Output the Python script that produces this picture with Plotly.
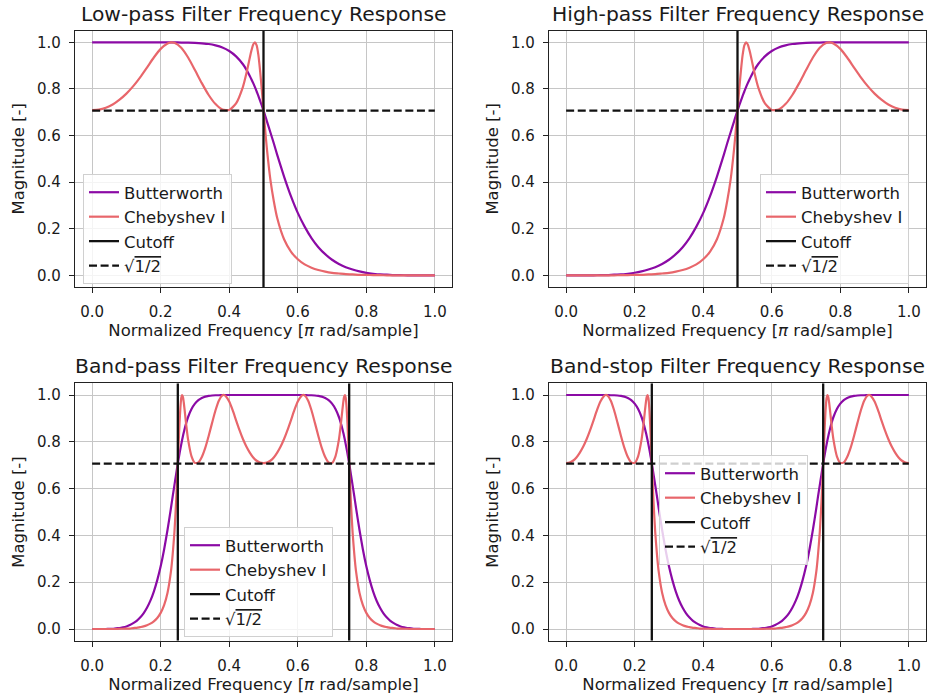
import plotly.graph_objects as go

# ---------------------------------------------------------------------------
# Magnitude responses |H(f)| sampled along the normalized frequency axis
# ---------------------------------------------------------------------------

# Low-pass (cutoff 0.5)
LP_FREQ = [0.00, 0.02, 0.04, 0.06, 0.08, 0.10, 0.12, 0.14, 0.16, 0.18, 0.20, 0.22, 0.23,
           0.24, 0.26, 0.28, 0.30, 0.32, 0.34, 0.36, 0.38, 0.40, 0.42, 0.44,
           0.45, 0.46, 0.465, 0.47, 0.475, 0.48, 0.485, 0.49, 0.495, 0.50, 0.505, 0.51,
           0.52, 0.53, 0.54,
           0.56, 0.58, 0.60, 0.62, 0.64, 0.66, 0.68, 0.70, 0.72, 0.74, 0.76, 0.78, 0.80,
           0.82, 0.84, 0.86, 0.88, 0.90, 0.92, 0.94, 0.96, 0.98, 1.00]
LP_BUTTER = [1.000, 1.000, 1.000, 1.000, 1.000, 1.000, 1.000, 1.000, 1.000, 1.000, 1.000, 1.000, 1.000,
             1.000, 0.999, 0.999, 0.998, 0.996, 0.993, 0.987, 0.978, 0.963, 0.940, 0.906,
             0.883, 0.856, 0.841, 0.825, 0.808, 0.789, 0.770, 0.750, 0.729, 0.707, 0.685, 0.661,
             0.614, 0.567, 0.517,
             0.424, 0.340, 0.268, 0.209, 0.160, 0.121, 0.091, 0.067, 0.049, 0.035, 0.025, 0.017, 0.011,
             0.007, 0.004, 0.003, 0.001, 0.001, 0.000, 0.000, 0.000, 0.000, 0.000]
LP_CHEBY = [0.709, 0.711, 0.719, 0.733, 0.754, 0.780, 0.812, 0.850, 0.892, 0.935, 0.972, 0.995, 1.000,
            0.998, 0.977, 0.935, 0.881, 0.825, 0.774, 0.735, 0.712, 0.710, 0.738, 0.809,
            0.866, 0.934, 0.966, 0.991, 1.000, 0.987, 0.946, 0.879, 0.797, 0.709, 0.622, 0.542,
            0.412, 0.319, 0.246,
            0.155, 0.102, 0.069, 0.047, 0.033, 0.023, 0.016, 0.011, 0.008, 0.005, 0.004, 0.002, 0.002,
            0.001, 0.001, 0.000, 0.000, 0.000, 0.000, 0.000, 0.000, 0.000, 0.000]

# High-pass (cutoff 0.5)
HP_FREQ = [0.00, 0.02, 0.04, 0.06, 0.08, 0.10, 0.12, 0.14, 0.16, 0.18, 0.20, 0.22,
           0.24, 0.26, 0.28, 0.30, 0.32, 0.34, 0.36, 0.38, 0.40, 0.42, 0.44, 0.46,
           0.47, 0.48, 0.49, 0.495, 0.50, 0.505, 0.51, 0.515, 0.52, 0.525, 0.53, 0.535, 0.54, 0.55,
           0.56, 0.58, 0.60, 0.62, 0.64, 0.66, 0.68, 0.70, 0.72, 0.74, 0.76, 0.77,
           0.78, 0.80, 0.82, 0.84, 0.86, 0.88, 0.90, 0.92, 0.94, 0.96, 0.98, 1.00]
HP_BUTTER = [0.000, 0.000, 0.000, 0.000, 0.000, 0.001, 0.001, 0.003, 0.004, 0.007, 0.011, 0.017,
             0.025, 0.035, 0.049, 0.067, 0.091, 0.121, 0.160, 0.209, 0.268, 0.340, 0.424, 0.517,
             0.567, 0.614, 0.661, 0.685, 0.707, 0.729, 0.750, 0.770, 0.789, 0.808, 0.825, 0.841, 0.856, 0.883,
             0.906, 0.940, 0.963, 0.978, 0.987, 0.993, 0.996, 0.998, 0.999, 0.999, 1.000, 1.000,
             1.000, 1.000, 1.000, 1.000, 1.000, 1.000, 1.000, 1.000, 1.000, 1.000, 1.000, 1.000]
HP_CHEBY = [0.000, 0.000, 0.000, 0.000, 0.000, 0.000, 0.000, 0.000, 0.001, 0.001, 0.002, 0.002,
            0.004, 0.005, 0.008, 0.011, 0.016, 0.023, 0.033, 0.047, 0.069, 0.102, 0.155, 0.246,
            0.319, 0.412, 0.542, 0.622, 0.709, 0.797, 0.879, 0.946, 0.987, 1.000, 0.991, 0.966, 0.934, 0.866,
            0.809, 0.738, 0.710, 0.712, 0.735, 0.774, 0.825, 0.881, 0.935, 0.977, 0.998, 1.000,
            0.995, 0.972, 0.935, 0.892, 0.850, 0.812, 0.780, 0.754, 0.733, 0.719, 0.711, 0.709]

# Band-pass (pass band 0.25 .. 0.75)
BP_FREQ = [0.00, 0.01, 0.02, 0.03, 0.04, 0.05, 0.06, 0.07, 0.08, 0.09, 0.10, 0.11,
           0.12, 0.13, 0.14, 0.15, 0.16, 0.17, 0.18, 0.19, 0.20, 0.21, 0.22, 0.23,
           0.235, 0.24, 0.245, 0.2475, 0.25, 0.2525, 0.255, 0.2575, 0.26, 0.2625, 0.265, 0.2675, 0.27, 0.275,
           0.28, 0.29, 0.30, 0.31, 0.32, 0.33, 0.34, 0.35, 0.36, 0.37, 0.38, 0.385,
           0.39, 0.40, 0.41, 0.42, 0.43, 0.44, 0.45, 0.46, 0.47, 0.48, 0.49, 0.50,
           0.51, 0.52, 0.53, 0.54, 0.55, 0.56, 0.57, 0.58, 0.59, 0.60, 0.61, 0.615,
           0.62, 0.63, 0.64, 0.65, 0.66, 0.67, 0.68, 0.69, 0.70, 0.71, 0.72,
           0.725, 0.73, 0.7325, 0.735, 0.7375, 0.74, 0.7425, 0.745, 0.7475, 0.75, 0.7525, 0.755,
           0.76, 0.765, 0.77,
           0.78, 0.79, 0.80, 0.81, 0.82, 0.83, 0.84, 0.85, 0.86, 0.87, 0.88, 0.89,
           0.90, 0.91, 0.92, 0.93, 0.94, 0.95, 0.96, 0.97, 0.98, 0.99, 1.00]
BP_BUTTER = [0.000, 0.000, 0.000, 0.000, 0.000, 0.001, 0.001, 0.003, 0.004, 0.007, 0.011, 0.017,
             0.025, 0.035, 0.049, 0.067, 0.091, 0.121, 0.160, 0.209, 0.268, 0.340, 0.424, 0.517,
             0.567, 0.614, 0.661, 0.685, 0.707, 0.729, 0.750, 0.770, 0.789, 0.808, 0.825, 0.841, 0.856, 0.883,
             0.906, 0.940, 0.963, 0.978, 0.987, 0.993, 0.996, 0.998, 0.999, 0.999, 1.000, 1.000,
             1.000, 1.000, 1.000, 1.000, 1.000, 1.000, 1.000, 1.000, 1.000, 1.000, 1.000, 1.000,
             1.000, 1.000, 1.000, 1.000, 1.000, 1.000, 1.000, 1.000, 1.000, 1.000, 1.000, 1.000,
             1.000, 0.999, 0.999, 0.998, 0.996, 0.993, 0.987, 0.978, 0.963, 0.940, 0.906,
             0.883, 0.856, 0.841, 0.825, 0.808, 0.789, 0.770, 0.750, 0.729, 0.707, 0.685, 0.661,
             0.614, 0.567, 0.517,
             0.424, 0.340, 0.268, 0.209, 0.160, 0.121, 0.091, 0.067, 0.049, 0.035, 0.025, 0.017,
             0.011, 0.007, 0.004, 0.003, 0.001, 0.001, 0.000, 0.000, 0.000, 0.000, 0.000]
BP_CHEBY = [0.000, 0.000, 0.000, 0.000, 0.000, 0.000, 0.000, 0.000, 0.001, 0.001, 0.002, 0.002,
            0.004, 0.005, 0.008, 0.011, 0.016, 0.023, 0.033, 0.047, 0.069, 0.102, 0.155, 0.246,
            0.319, 0.412, 0.542, 0.622, 0.709, 0.797, 0.879, 0.946, 0.987, 1.000, 0.991, 0.966, 0.934, 0.866,
            0.809, 0.738, 0.710, 0.712, 0.735, 0.774, 0.825, 0.881, 0.935, 0.977, 0.998, 1.000,
            0.995, 0.972, 0.935, 0.892, 0.850, 0.812, 0.780, 0.754, 0.733, 0.719, 0.711, 0.709,
            0.711, 0.719, 0.733, 0.754, 0.780, 0.812, 0.850, 0.892, 0.935, 0.972, 0.995, 1.000,
            0.998, 0.977, 0.935, 0.881, 0.825, 0.774, 0.735, 0.712, 0.710, 0.738, 0.809,
            0.866, 0.934, 0.966, 0.991, 1.000, 0.987, 0.946, 0.879, 0.797, 0.709, 0.622, 0.542,
            0.412, 0.319, 0.246,
            0.155, 0.102, 0.069, 0.047, 0.033, 0.023, 0.016, 0.011, 0.008, 0.005, 0.004, 0.002,
            0.002, 0.001, 0.001, 0.000, 0.000, 0.000, 0.000, 0.000, 0.000, 0.000, 0.000]

# Band-stop (stop band 0.25 .. 0.75)
BS_FREQ = [0.00, 0.01, 0.02, 0.03, 0.04, 0.05, 0.06, 0.07, 0.08, 0.09, 0.10, 0.11, 0.115,
           0.12, 0.13, 0.14, 0.15, 0.16, 0.17, 0.18, 0.19, 0.20, 0.21, 0.22,
           0.225, 0.23, 0.2325, 0.235, 0.2375, 0.24, 0.2425, 0.245, 0.2475, 0.25, 0.2525, 0.255,
           0.26, 0.265, 0.27,
           0.28, 0.29, 0.30, 0.31, 0.32, 0.33, 0.34, 0.35, 0.36, 0.37, 0.38, 0.39, 0.40,
           0.41, 0.42, 0.43, 0.44, 0.45, 0.46, 0.47, 0.48, 0.49, 0.50,
           0.51, 0.52, 0.53, 0.54, 0.55, 0.56, 0.57, 0.58, 0.59, 0.60, 0.61, 0.62,
           0.63, 0.64, 0.65, 0.66, 0.67, 0.68, 0.69, 0.70, 0.71, 0.72, 0.73,
           0.735, 0.74, 0.745, 0.7475, 0.75, 0.7525, 0.755, 0.7575, 0.76, 0.7625, 0.765, 0.7675, 0.77, 0.775,
           0.78, 0.79, 0.80, 0.81, 0.82, 0.83, 0.84, 0.85, 0.86, 0.87, 0.88, 0.885,
           0.89, 0.90, 0.91, 0.92, 0.93, 0.94, 0.95, 0.96, 0.97, 0.98, 0.99, 1.00]
BS_BUTTER = [1.000, 1.000, 1.000, 1.000, 1.000, 1.000, 1.000, 1.000, 1.000, 1.000, 1.000, 1.000, 1.000,
             1.000, 0.999, 0.999, 0.998, 0.996, 0.993, 0.987, 0.978, 0.963, 0.940, 0.906,
             0.883, 0.856, 0.841, 0.825, 0.808, 0.789, 0.770, 0.750, 0.729, 0.707, 0.685, 0.661,
             0.614, 0.567, 0.517,
             0.424, 0.340, 0.268, 0.209, 0.160, 0.121, 0.091, 0.067, 0.049, 0.035, 0.025, 0.017, 0.011,
             0.007, 0.004, 0.003, 0.001, 0.001, 0.000, 0.000, 0.000, 0.000, 0.000,
             0.000, 0.000, 0.000, 0.000, 0.001, 0.001, 0.003, 0.004, 0.007, 0.011, 0.017, 0.025,
             0.035, 0.049, 0.067, 0.091, 0.121, 0.160, 0.209, 0.268, 0.340, 0.424, 0.517,
             0.567, 0.614, 0.661, 0.685, 0.707, 0.729, 0.750, 0.770, 0.789, 0.808, 0.825, 0.841, 0.856, 0.883,
             0.906, 0.940, 0.963, 0.978, 0.987, 0.993, 0.996, 0.998, 0.999, 0.999, 1.000, 1.000,
             1.000, 1.000, 1.000, 1.000, 1.000, 1.000, 1.000, 1.000, 1.000, 1.000, 1.000, 1.000]
BS_CHEBY = [0.709, 0.711, 0.719, 0.733, 0.754, 0.780, 0.812, 0.850, 0.892, 0.935, 0.972, 0.995, 1.000,
            0.998, 0.977, 0.935, 0.881, 0.825, 0.774, 0.735, 0.712, 0.710, 0.738, 0.809,
            0.866, 0.934, 0.966, 0.991, 1.000, 0.987, 0.946, 0.879, 0.797, 0.709, 0.622, 0.542,
            0.412, 0.319, 0.246,
            0.155, 0.102, 0.069, 0.047, 0.033, 0.023, 0.016, 0.011, 0.008, 0.005, 0.004, 0.002, 0.002,
            0.001, 0.001, 0.000, 0.000, 0.000, 0.000, 0.000, 0.000, 0.000, 0.000,
            0.000, 0.000, 0.000, 0.000, 0.000, 0.000, 0.000, 0.001, 0.001, 0.002, 0.002, 0.004,
            0.005, 0.008, 0.011, 0.016, 0.023, 0.033, 0.047, 0.069, 0.102, 0.155, 0.246,
            0.319, 0.412, 0.542, 0.622, 0.709, 0.797, 0.879, 0.946, 0.987, 1.000, 0.991, 0.966, 0.934, 0.866,
            0.809, 0.738, 0.710, 0.712, 0.735, 0.774, 0.825, 0.881, 0.935, 0.977, 0.998, 1.000,
            0.995, 0.972, 0.935, 0.892, 0.850, 0.812, 0.780, 0.754, 0.733, 0.719, 0.711, 0.709]

LP_CUTOFF = [0.5]
HP_CUTOFF = [0.5]
BP_CUTOFF = [0.25, 0.75]
BS_CUTOFF = [0.25, 0.75]
HALF_POWER = 0.7071  # sqrt(1/2)

TITLES = ["Low-pass Filter Frequency Response", "High-pass Filter Frequency Response",
          "Band-pass Filter Frequency Response", "Band-stop Filter Frequency Response"]
TICK_VALUES = [0.0, 0.2, 0.4, 0.6, 0.8, 1.0]
TICK_LABELS = ["0.0", "0.2", "0.4", "0.6", "0.8", "1.0"]
SERIES_NAMES = ["Butterworth", "Chebyshev I", "Cutoff",
                "√<span style='text-decoration:overline'>1/2</span>"]

# ---------------------------------------------------------------------------
# Styling / layout
# ---------------------------------------------------------------------------
W, H = 928, 698
FONT = "DejaVu Sans"
TEXT = "#1a1a1a"
BUTTER_COLOR = "#8b0aa5"
CHEBY_COLOR = "#e8666b"
AX_RANGE = [-0.05, 1.05]

# plot-area rectangles in pixels: (left, top, right, bottom)
BOXES = [(75, 30.7, 452, 287), (549, 30.7, 926, 287),
         (75, 383.3, 452, 640.7), (549, 383.3, 926, 640.7)]
# legend box: left edge and vertical centre in pixels
LEGEND_POS = [(83, 229), (760, 229), (184, 582), (659, 510)]

panels = [
    (LP_FREQ, LP_BUTTER, LP_CHEBY, LP_CUTOFF),
    (HP_FREQ, HP_BUTTER, HP_CHEBY, HP_CUTOFF),
    (BP_FREQ, BP_BUTTER, BP_CHEBY, BP_CUTOFF),
    (BS_FREQ, BS_BUTTER, BS_CHEBY, BS_CUTOFF),
]

fig = go.Figure()
layout = dict(
    width=W, height=H,
    margin=dict(l=0, r=0, t=0, b=0),
    paper_bgcolor="white", plot_bgcolor="white",
    font=dict(family=FONT, color=TEXT, size=15),
    annotations=[],
)

for i, (freq, butter, cheby, cutoffs) in enumerate(panels):
    n = i + 1
    xa, ya = ("x", "y") if n == 1 else (f"x{n}", f"y{n}")
    leg = "legend" if n == 1 else f"legend{n}"

    cut_x, cut_y = [], []
    for c in cutoffs:
        cut_x += [c, c, None]
        cut_y += [AX_RANGE[0], AX_RANGE[1], None]

    traces = [
        go.Scatter(x=freq, y=butter, name=SERIES_NAMES[0], mode="lines",
                   line=dict(color=BUTTER_COLOR, width=2.2, shape="spline", smoothing=0.6)),
        go.Scatter(x=freq, y=cheby, name=SERIES_NAMES[1], mode="lines",
                   line=dict(color=CHEBY_COLOR, width=2.2, shape="spline", smoothing=0.6)),
        go.Scatter(x=cut_x, y=cut_y, name=SERIES_NAMES[2], mode="lines",
                   line=dict(color="#111111", width=2.3)),
        go.Scatter(x=[freq[0], freq[-1]], y=[HALF_POWER, HALF_POWER], name=SERIES_NAMES[3],
                   mode="lines", line=dict(color="#111111", width=2.2, dash="8px,3.6px")),
    ]
    for t in traces:
        t.update(xaxis=xa, yaxis=ya, legend=leg, hoverinfo="skip")
        fig.add_trace(t)

    l, t_, r, b = BOXES[i]
    axis_common = dict(
        range=AX_RANGE, tickvals=TICK_VALUES, ticktext=TICK_LABELS,
        showgrid=True, gridcolor="#c6c6c6", gridwidth=1.1, zeroline=False,
        showline=True, mirror=True, linecolor="#222222", linewidth=1.3,
        ticks="outside", ticklen=5, tickwidth=1.2, tickcolor="#222222",
        tickfont=dict(family=FONT, size=15, color=TEXT), automargin=False,
    )
    xkey = "xaxis" if n == 1 else f"xaxis{n}"
    ykey = "yaxis" if n == 1 else f"yaxis{n}"
    layout[xkey] = dict(axis_common, domain=[l / W, r / W], anchor=ya, ticklabelstandoff=6,
                        title=dict(text="Normalized Frequency [<i>π</i> rad/sample]",
                                   font=dict(family=FONT, size=16.5, color=TEXT), standoff=3))
    layout[ykey] = dict(axis_common, domain=[1 - b / H, 1 - t_ / H], anchor=xa, ticklabelstandoff=5,
                        title=dict(text="Magnitude [-]",
                                   font=dict(family=FONT, size=16.5, color=TEXT), standoff=8))

    lx, ly = LEGEND_POS[i]
    layout[leg] = dict(
        x=lx / W, y=1 - ly / H, xanchor="left", yanchor="middle",
        bgcolor="rgba(255,255,255,0.8)", bordercolor="#d0d0d0", borderwidth=1,
        font=dict(family=FONT, size=16.5, color=TEXT), tracegroupgap=0,
        itemwidth=30,
    )

    layout["annotations"].append(dict(
        text=TITLES[i], xref="paper", yref="paper",
        x=(l + r) / 2 / W, y=1 - (t_ - 17) / H, xanchor="center", yanchor="middle",
        showarrow=False, font=dict(family=FONT, size=20.3, color=TEXT),
    ))

fig.update_layout(**layout)
fig.write_html("out.html")
